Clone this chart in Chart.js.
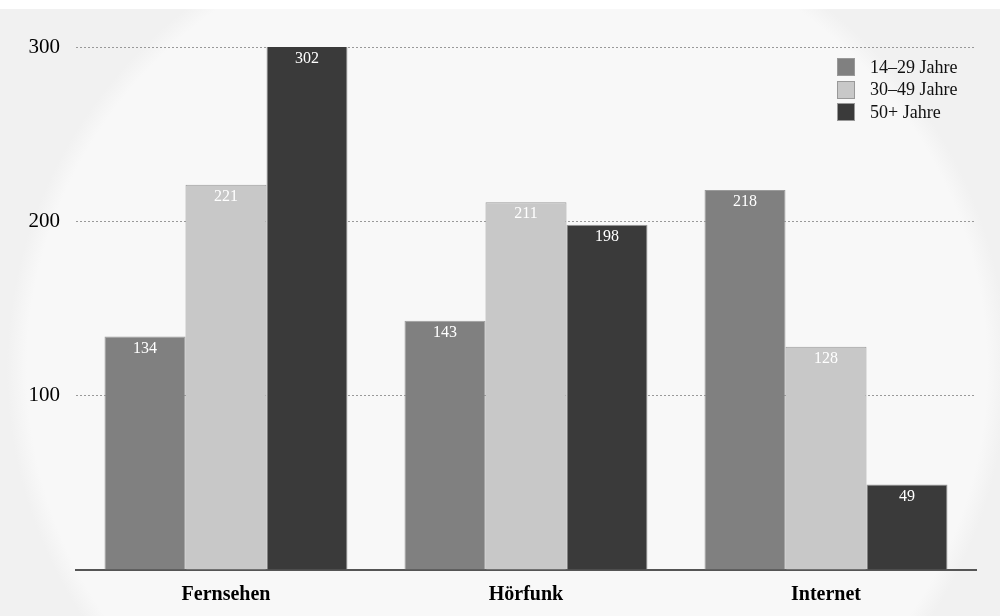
<!DOCTYPE html>
<html>
<head>
<meta charset="utf-8">
<script src="https://cdn.jsdelivr.net/npm/chart.js@4/dist/chart.umd.min.js"></script>
<style>
  html, body { margin: 0; padding: 0; background: #fff; }
  #wrap {
    position: relative; width: 1000px; height: 616px;
    background: #fff;
  }
  #bg {
    position: absolute; left: 0; top: 9px; width: 1000px; height: 607px;
    background: radial-gradient(ellipse 500px 470px at 507px 360px, #f8f8f8 96%, #f1f1f1 100%);
  }
  canvas { position: absolute; left: 0; top: 0; }
  #legend {
    position: absolute; left: 837px; top: 56px;
    font-family: "Liberation Serif", "DejaVu Serif", serif; font-size: 18px; color: #111;
  }
  .row { display: flex; align-items: center; height: 22.5px; }
  .sw { width: 18px; height: 18px; margin-right: 15px; box-sizing: border-box; border: 1px solid #999; }
</style>
</head>
<body>
<div id="wrap">
  <div id="bg"></div>
  <canvas id="chart" width="1000" height="616"></canvas>
  <div id="legend"></div>
</div>
<script>
// chart values
const categories = ["Fernsehen", "Hörfunk", "Internet"];
const seriesNames = ["14–29 Jahre", "30–49 Jahre", "50+ Jahre"];
const young = [134, 143, 218];
const middle = [221, 211, 128];
const older = [302, 198, 49];
const yTicks = [100, 200, 300];

const colors = ["#808080", "#c8c8c8", "#3a3a3a"];
const serif = '"Liberation Serif", "DejaVu Serif", serif';

// white value labels inside the top of each bar
const barLabels = {
    id: "barLabels",
    afterDatasetsDraw(chart) {
        const ctx = chart.ctx;
        const top = chart.chartArea.top;
        ctx.save();
        ctx.font = "16px " + serif;
        ctx.fillStyle = "#fff";
        ctx.textAlign = "center";
        ctx.textBaseline = "middle";
        chart.data.datasets.forEach((ds, i) => {
            chart.getDatasetMeta(i).data.forEach((bar, j) => {
                const y = Math.max(bar.y, top);
                ctx.fillText(ds.data[j], bar.x, y + 12);
            });
        });
        ctx.restore();
    }
};

const datasets = [young, middle, older].map((vals, i) => ({
    label: seriesNames[i],
    data: vals,
    backgroundColor: colors[i],
    borderColor: "#9a9a9a",
    borderWidth: 1,
    clip: 0,
    categoryPercentage: 0.81,
    barPercentage: 1.0
}));

new Chart(document.getElementById("chart"), {
    type: "bar",
    data: { labels: categories, datasets: datasets },
    options: {
        responsive: false,
        animation: false,
        layout: { padding: { top: 47, right: 24, left: 0, bottom: 0 } },
        plugins: {
            legend: { display: false },
            tooltip: { enabled: false }
        },
        scales: {
            x: {
                grid: { display: false },
                border: { display: true, color: "#555", width: 2 },
                ticks: {
                    color: "#000",
                    padding: 5,
                    font: { family: serif, size: 20, weight: "bold" }
                },
                afterFit(scale) { scale.height = 46; }
            },
            y: {
                min: 0,
                max: 300,
                afterBuildTicks(scale) {
                    scale.ticks = [0].concat(yTicks).map(v => ({ value: v }));
                },
                grid: {
                    drawTicks: false,
                    color: ctx => ctx.tick && ctx.tick.value === 0 ? "rgba(0,0,0,0)" : "#999",
                    lineWidth: 1
                },
                border: { display: false, dash: [2, 2] },
                ticks: {
                    color: "#000",
                    padding: 16,
                    font: { family: serif, size: 21 },
                    callback: v => v === 0 ? "" : v
                },
                afterFit(scale) { scale.width = 76; }
            }
        }
    },
    plugins: [barLabels]
});

// legend as html
const legend = document.getElementById("legend");
seriesNames.forEach((name, i) => {
    const row = document.createElement("div");
    row.className = "row";
    row.innerHTML = `<div class="sw" style="background:${colors[i]}"></div><span>${name}</span>`;
    legend.appendChild(row);
});
</script>
</body>
</html>
